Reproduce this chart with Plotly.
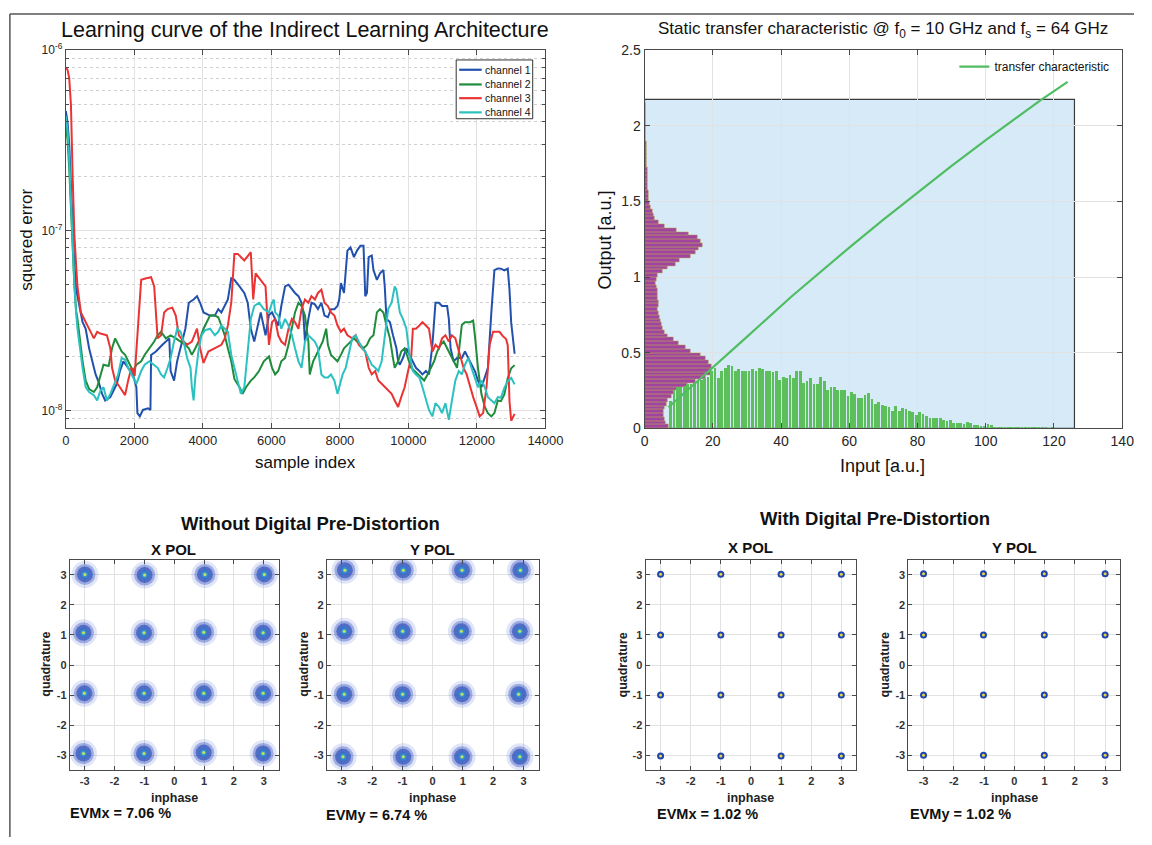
import plotly.graph_objects as go

W, H = 1152, 845
def px(x): return x / W
def py(y): return 1 - y / H

FONT = "Liberation Sans, Arial, sans-serif"
TXT = "#262626"
AXC = "#4a4a4a"

# ---------------- Learning curve (squared error, units of 1e-8) ----------------
ch1_x = [0, 50, 100, 150, 200, 250, 300, 340, 490, 580, 680, 770, 870, 960, 1060, 1150, 1300, 1390, 1490, 1580,
         1680, 1820, 1960, 2060, 2090, 2160, 2250, 2400, 2470, 2490, 2630, 2820, 3020, 3060, 3160, 3250, 3350, 3490,
         3590, 3730, 3830, 3920, 4020, 4110, 4210, 4350, 4450, 4540, 4640, 4730, 4830, 4920, 5070, 5210, 5310, 5400,
         5500, 5590, 5690, 5830, 5930, 6020, 6110, 6200, 6290, 6400, 6500, 6600, 6690, 6790, 6880, 6930, 6980, 7080,
         7170, 7270, 7360, 7460, 7550, 7650, 7740, 7840, 7930, 7980, 8030, 8120, 8220, 8310, 8410, 8500, 8600, 8690,
         8740, 8790, 8840, 8930, 8980, 9080, 9170, 9270, 9310, 9360, 9460, 9550, 9650, 9700, 9750, 9840, 9940, 10030,
         10130, 10220, 10320, 10410, 10510, 10600, 10700, 10790, 10890, 10980, 11130, 11180, 11230, 11320, 11420,
         11560, 11650, 11750, 11840, 11940, 12030, 12130, 12230, 12320, 12420, 12510, 12610, 12700, 12800, 12900,
         12950, 13000, 13100]
ch1_v = [46, 40, 30, 18, 10, 6.5, 4.8, 4.32, 3.10, 2.85, 2.22, 1.88, 1.59, 1.44, 1.24, 1.14, 1.19, 1.29, 1.41, 1.66,
         1.88, 1.73, 1.59, 1.35, 0.97, 0.93, 1.01, 1.03, 1.01, 2.04, 2.13, 2.32, 2.52, 1.66, 1.47, 1.88, 2.22, 2.85,
         3.97, 4.14, 4.32, 3.97, 3.51, 3.44, 3.37, 3.37, 3.66, 3.51, 3.81, 4.14, 5.43, 5.32, 4.89, 4.50, 3.97, 2.85,
         2.42, 2.85, 3.51, 2.62, 3.40, 3.51, 3.23, 2.97, 3.81, 4.89, 5.00, 4.69, 4.50, 4.32, 3.97, 3.51, 2.42, 3.23,
         3.97, 3.89, 3.66, 3.97, 3.37, 3.30, 3.66, 3.66, 3.81, 4.14, 5.10, 4.50, 7.73, 8.06, 7.11, 7.73, 8.23, 8.23,
         4.32, 4.50, 7.11, 7.26, 6.03, 5.32, 5.78, 6.03, 4.89, 3.23, 3.10, 2.62, 2.22, 1.88, 1.80, 1.96, 2.22, 2.04,
         1.88, 1.73, 1.66, 1.59, 1.66, 1.59, 2.32, 3.97, 3.97, 3.81, 3.81, 3.23, 2.22, 1.88, 1.96,
         1.96, 2.13, 1.96, 1.80, 1.66, 1.47, 1.35, 1.53, 1.73, 3.51, 6.03, 6.15, 6.14, 6.00, 6.14,
         4.68, 3.08, 2.07]

ch2_x = [0, 50, 100, 150, 200, 250, 300, 340, 490, 580, 680, 820, 915, 1010, 1100, 1250, 1350, 1440, 1530, 1630,
         1730, 1820, 1960, 2060, 2200, 2300, 2440, 2580, 2680, 2780, 2920, 3060, 3210, 3350, 3490, 3590, 3680, 3780,
         3920, 4020, 4110, 4210, 4350, 4450, 4540, 4640, 4730, 4830, 4920, 5070, 5160, 5260, 5400, 5500, 5640, 5780,
         5930, 6020, 6110, 6200, 6290, 6400, 6500, 6600, 6690, 6790, 6880, 6980, 7080, 7120, 7220, 7360, 7500, 7600,
         7650, 7740, 7840, 7930, 8030, 8120, 8220, 8310, 8410, 8500, 8600, 8690, 8790, 8880, 8980, 9080, 9170, 9270,
         9360, 9460, 9550, 9600, 9700, 9790, 9890, 9990, 10080, 10180, 10270, 10370, 10460, 10560, 10650, 10750,
         10840, 10940, 11030, 11130, 11230, 11320, 11420, 11560, 11650, 11800, 11890, 11940, 12030, 12130, 12230,
         12320, 12420, 12510, 12610, 12700, 12800, 12900, 13000, 13100]
ch2_v = [38, 32, 22, 13, 8, 5, 3.6, 3.23, 1.88, 1.47, 1.32, 1.27, 1.35, 1.59, 1.80, 1.77, 2.22, 2.52, 2.32, 2.13,
         2.04, 1.88, 1.66, 1.80, 1.88, 2.04, 2.22, 2.42, 2.62, 2.74, 2.52, 2.62, 2.52, 2.42, 2.32, 2.22, 2.04, 2.22,
         2.52, 2.85, 3.10, 3.37, 3.37, 3.30, 2.97, 2.62, 2.22, 1.88, 1.50, 1.35, 1.24, 1.35, 1.47, 1.53, 1.66, 1.88,
         2.00, 1.73, 1.59, 1.66, 1.88, 1.96, 2.32, 2.85, 3.51, 3.97, 3.81, 3.37, 2.42, 1.59, 1.88, 2.13, 2.42, 2.85,
         2.32, 2.04, 1.96, 1.88, 2.04, 2.22, 2.32, 2.42, 2.52, 2.42, 2.32, 2.22, 2.32, 2.52, 2.62, 3.51, 3.66, 3.51,
         2.97, 2.52, 1.96, 1.73, 1.88, 2.13, 2.22, 1.96, 1.73, 1.66, 1.59, 1.53, 1.47, 1.59, 1.73, 1.88,
         2.13, 2.32, 2.42, 2.22, 2.04, 1.88, 1.73, 3.00, 3.10, 3.10, 3.16, 2.62, 1.73, 1.24, 1.05,
         0.97, 0.93, 0.97, 1.14, 1.13, 1.23, 1.52, 1.72, 1.79]

ch3_x = [0, 50, 100, 150, 200, 250, 300, 340, 440, 580, 725, 820, 915, 1010, 1200, 1300, 1350, 1440, 1580, 1730,
         1820, 1915, 2010, 2110, 2200, 2350, 2490, 2580, 2680, 2780, 2870, 2970, 3110, 3210, 3300, 3440, 3540, 3680,
         3830, 3920, 4020, 4160, 4350, 4540, 4640, 4730, 4830, 4920, 5020, 5210, 5400, 5470, 5540, 5690, 5830, 5930,
         6020, 6110, 6200, 6290, 6400, 6500, 6600, 6690, 6790, 6880, 6980, 7080, 7170, 7270, 7360, 7460, 7550, 7650,
         7740, 7840, 7930, 8030, 8120, 8220, 8360, 8460, 8550, 8650, 8740, 8840, 8930, 9030, 9120, 9220, 9310, 9410,
         9510, 9600, 9700, 9790, 9890, 9990, 10080, 10130, 10220, 10320, 10410, 10510, 10600, 10700, 10790, 10890,
         10980, 11080, 11180, 11270, 11370, 11420, 11520, 11610, 11700, 11800, 11890, 11990, 12080, 12180, 12280,
         12370, 12470, 12560, 12660, 12750, 12850, 12900, 12950, 13000, 13100]
ch3_v = [80, 78, 70, 50, 20, 9.5, 6.5, 4.89, 3.51, 3.10, 2.74, 2.52, 2.74, 2.68, 2.62, 2.22, 1.73, 1.47, 1.35, 1.22,
         1.47, 1.73, 1.56, 2.85, 5.32, 5.43, 5.50, 4.89, 2.52, 2.62, 3.51, 3.66, 3.73, 3.37, 2.62, 2.42, 2.32, 2.42,
         2.85, 2.22, 1.84, 2.13, 2.22, 2.32, 2.52, 2.97, 3.97, 7.41, 7.41, 6.82, 7.57, 4.14, 5.78, 5.32, 4.89, 2.32,
         3.10, 3.23, 2.62, 2.42, 2.32, 2.85, 3.23, 3.10, 2.85, 3.66, 4.14, 3.97, 4.32, 4.14, 4.50, 4.69, 3.97, 3.81,
         3.51, 3.37, 2.97, 2.74, 2.85, 2.62, 2.52, 2.62, 2.32, 2.22, 2.13, 1.73, 1.59, 1.66, 1.47, 1.41, 1.35, 1.29,
         1.24, 1.14, 1.05, 1.19, 1.35, 1.66, 1.96, 2.85, 2.85, 2.97, 3.10, 2.97, 2.85, 2.13, 2.32, 2.22,
         2.52, 2.62, 2.42, 2.62, 2.52, 2.32, 1.96, 1.73, 1.59, 1.35, 1.19, 1.05, 0.93, 0.97, 1.35,
         2.32, 2.74, 2.74, 2.74, 2.60, 2.50, 2.30, 1.13, 0.88, 0.96]

ch4_x = [0, 50, 100, 150, 200, 250, 300, 340, 490, 580, 680, 820, 915, 1010, 1100, 1200, 1300, 1440, 1530, 1630,
         1730, 1820, 1960, 2060, 2200, 2300, 2440, 2580, 2680, 2780, 2870, 2970, 3060, 3160, 3250, 3350, 3440, 3540,
         3640, 3680, 3730, 3780, 3870, 3960, 4060, 4210, 4350, 4450, 4540, 4640, 4730, 4830, 4920, 5020, 5110, 5210,
         5310, 5400, 5500, 5640, 5780, 5930, 6020, 6070, 6110, 6200, 6290, 6400, 6500, 6600, 6690, 6790, 6880, 6980,
         7080, 7170, 7270, 7360, 7460, 7550, 7650, 7740, 7840, 7930, 7980, 8080, 8170, 8270, 8360, 8460, 8550, 8650,
         8740, 8840, 8930, 9030, 9120, 9220, 9310, 9410, 9510, 9600, 9650, 9750, 9840, 9940, 10030, 10130, 10220,
         10320, 10410, 10510, 10600, 10700, 10790, 10890, 10980, 11080, 11180, 11270, 11370, 11470, 11560, 11650,
         11750, 11840, 11940, 12030, 12130, 12230, 12320, 12420, 12510, 12610, 12700, 12800, 12900, 13000, 13100]
ch4_v = [43, 36, 25, 14, 8, 5, 3.5, 2.85, 1.73, 1.35, 1.27, 1.22, 1.14, 1.29, 1.35, 1.14, 1.24, 1.44, 1.59, 1.96,
         1.92, 1.73, 1.53, 1.41, 1.66, 1.80, 1.88, 1.80, 1.73, 1.59, 1.53, 1.73, 1.96, 2.42, 2.85, 2.74, 2.42, 1.96,
         1.73, 1.35, 1.14, 1.53, 2.13, 2.62, 2.79, 2.85, 2.62, 2.74, 2.97, 2.85, 2.74, 2.04, 1.73, 1.41, 1.24, 1.35,
         2.13, 3.23, 3.81, 3.97, 3.66, 3.51, 3.97, 4.14, 3.51, 3.37, 2.85, 3.23, 2.97, 2.62, 2.22, 1.88, 1.73, 2.42,
         2.62, 2.52, 2.42, 2.22, 1.59, 1.53, 1.53, 1.59, 1.47, 1.24, 1.35, 1.59, 1.73, 2.13, 2.52, 2.62, 2.42, 2.22,
         2.13, 1.96, 1.80, 1.73, 1.66, 1.88, 2.62, 3.66, 3.97, 4.89, 4.69, 3.51, 3.23, 2.85, 2.04, 1.66, 1.59,
         1.53, 1.35, 1.14, 1.01, 0.93, 1.10, 1.05, 0.97, 1.10, 0.89, 1.14, 1.47, 1.66, 1.59, 1.80,
         1.96, 1.73, 1.53, 1.35, 1.47, 1.35, 1.19, 1.14, 1.10, 1.19, 1.18, 1.34, 1.46, 1.52, 1.40]

channel_names = ["channel 1", "channel 2", "channel 3", "channel 4"]
channel_colors = ["#2251ad", "#1f8c3b", "#ea3434", "#2cc0c0"]

# ---------------- Static transfer characteristic ----------------
in_hist_left = list(range(7, 125))
in_hist = [0.18, 0.25, 0.27, 0.27, 0.28, 0.29, 0.29, 0.30, 0.31, 0.32, 0.33, 0.34, 0.38, 0.40, 0.33, 0.38, 0.40,
           0.42, 0.41, 0.38, 0.39, 0.38, 0.38, 0.38, 0.39, 0.38, 0.40, 0.39, 0.38, 0.38, 0.37, 0.38, 0.32, 0.34,
           0.33, 0.35, 0.33, 0.38, 0.38, 0.30, 0.31, 0.33, 0.29, 0.29, 0.34, 0.31, 0.25, 0.27, 0.27, 0.25, 0.25,
           0.25, 0.21, 0.24, 0.225, 0.20, 0.20, 0.22, 0.23, 0.19, 0.16, 0.175, 0.155, 0.15, 0.14, 0.117, 0.145,
           0.112, 0.134, 0.127, 0.117, 0.106, 0.09, 0.106, 0.095, 0.084, 0.069, 0.069, 0.067, 0.067, 0.056, 0.048,
           0.052, 0.037, 0.035, 0.035, 0.03, 0.041, 0.035, 0.019, 0.023, 0.013, 0.013, 0.03, 0.019, 0.006, 0.005,
           0.005, 0.009, 0.005, 0.004, 0.004, 0.003, 0.004, 0.003, 0.003, 0.002, 0.003, 0.002, 0.002, 0.002,
           0.001, 0.002, 0.001, 0.001, 0.001, 0.001, 0.001]
out_bin_width = 0.025
out_hist = [7.0, 6.2, 5.8, 5.5, 5.5, 5.8, 6.3, 6.8, 7.8, 8.6, 10.0, 12.5, 15.0, 18.0, 19.3, 19.7, 19.5, 18.8, 17.8,
            16.5, 13.5, 12.0, 10.0, 8.5, 6.8, 6.0, 5.4, 5.0, 4.6, 4.4, 4.2, 3.9, 4.0, 4.1, 3.9, 3.8, 3.7, 3.4,
            3.2, 3.5, 3.9, 5.4, 6.8, 9.0, 10.4, 13.5, 15.0, 15.8, 17.0, 16.5, 15.5, 13.0, 9.5, 6.0, 4.0, 3.0,
            2.5, 2.2, 1.7, 1.5, 1.3, 1.2, 1.1, 1.0, 1.0, 0.9, 0.9, 0.8, 0.8, 0.7, 0.7, 0.6, 0.6, 0.5, 0.5, 0.5,
            0.4, 0.4, 0.35, 0.3, 0.3, 0.25, 0.2, 0.2, 0.15, 0.15, 0.1]
tc_in = [7, 20, 30, 43, 50, 60, 70, 80, 90, 100, 110, 116, 124]
tc_out = [0.14, 0.40, 0.605, 0.87, 1.005, 1.195, 1.38, 1.56, 1.735, 1.905, 2.07, 2.168, 2.29]
range_box = [126, 2.175]   # input / output extent of the shaded region

# ---------------- Constellations (cluster centres) ----------------
woX_i = [-2.99, -0.99, 1.03, 3.02, -3.04, -1.01, 0.99, 2.98, -3.01, -1.01, 0.99, 2.98, -3.04, -1.01, 0.99, 2.98]
woX_q = [3.01, 2.99, 3.01, 3.01, 1.07, 1.07, 1.09, 1.07, -0.94, -0.94, -0.94, -0.94, -2.94, -2.94, -2.91, -2.94]
woY_i = [-2.90, -0.97, 0.97, 2.90, -2.92, -0.99, 0.95, 2.88, -2.92, -0.99, 0.97, 2.84, -2.96, -0.97, 0.97, 2.88]
woY_q = [3.15, 3.15, 3.15, 3.15, 1.12, 1.12, 1.12, 1.12, -0.97, -0.97, -0.97, -0.97, -3.05, -3.05, -3.05, -3.05]
wX_i = [-3.0, -1.0, 1.0, 3.0, -3.0, -1.0, 1.0, 3.0, -3.0, -1.0, 1.0, 3.0, -3.0, -1.0, 1.0, 3.0]
wX_q = [3.02, 3.02, 3.02, 3.02, 1.0, 1.0, 1.0, 1.0, -1.0, -1.0, -1.0, -1.0, -3.02, -3.02, -3.02, -3.02]
wY_i = [-3.0, -1.02, 0.99, 3.0, -3.0, -1.02, 0.99, 3.0, -3.0, -1.02, 0.99, 3.0, -3.0, -1.02, 0.99, 3.0]
wY_q = [3.03, 3.03, 3.03, 3.03, 1.0, 1.0, 1.0, 1.0, -1.0, -1.0, -1.0, -1.0, -3.0, -3.0, -3.0, -3.0]
evm_labels = ["EVMx = 7.06 %", "EVMy = 6.74 %", "EVMx = 1.02 %", "EVMy = 1.02 %"]
pol_labels = ["X POL", "Y POL", "X POL", "Y POL"]
group_titles = ["Without Digital Pre-Distortion", "With Digital Pre-Distortion"]

fig = go.Figure()

# learning curves
for nm, xs, vs, col in zip(channel_names, [ch1_x, ch2_x, ch3_x, ch4_x], [ch1_v, ch2_v, ch3_v, ch4_v], channel_colors):
    fig.add_trace(go.Scatter(x=xs, y=[v * 1e-8 for v in vs], mode="lines", name=nm,
                             line=dict(color=col, width=2), showlegend=False, xaxis="x", yaxis="y"))

# histograms and transfer curve
fig.add_trace(go.Bar(y=[out_bin_width * (k + 0.5) for k in range(len(out_hist))], x=out_hist, orientation="h",
                     width=out_bin_width, marker=dict(color="#a0449f", line=dict(color="#bfae4c", width=0.5)),
                     showlegend=False, xaxis="x2", yaxis="y2"))
fig.add_trace(go.Bar(x=[b + 0.5 for b in in_hist_left], y=in_hist, width=0.8,
                     marker=dict(color="#5cbf5c", line=dict(width=0)), showlegend=False, xaxis="x2", yaxis="y2"))
fig.add_trace(go.Scatter(x=tc_in, y=tc_out, mode="lines", name="transfer characteristic",
                         line=dict(color="#50bd62", width=2.2), showlegend=True, xaxis="x2", yaxis="y2"))

# constellations
panels = [(woX_i, woX_q, "x3", "y3", False), (woY_i, woY_q, "x4", "y4", False),
          (wX_i, wX_q, "x5", "y5", True), (wY_i, wY_q, "x6", "y6", True)]
for ii, qq, xa, ya, dpd in panels:
    if not dpd:
        fig.add_trace(go.Scatter(x=ii, y=qq, mode="markers", showlegend=False, xaxis=xa, yaxis=ya,
                                 marker=dict(size=27, color="rgba(35,70,195,0.14)", line=dict(width=0))))
        fig.add_trace(go.Scatter(x=ii, y=qq, mode="markers", showlegend=False, xaxis=xa, yaxis=ya,
                                 marker=dict(size=21, color="rgba(35,65,185,0.35)", line=dict(width=0))))
        fig.add_trace(go.Scatter(x=ii, y=qq, mode="markers", showlegend=False, xaxis=xa, yaxis=ya,
                                 marker=dict(size=16, color="rgba(30,60,175,0.55)", line=dict(width=0),
                                             gradient=dict(type="radial", color="rgba(45,110,205,0.85)"))))
        fig.add_trace(go.Scatter(x=ii, y=qq, mode="markers", showlegend=False, xaxis=xa, yaxis=ya,
                                 marker=dict(size=9, color="rgba(40,110,200,0.55)", line=dict(width=0),
                                             gradient=dict(type="radial", color="rgba(70,200,210,0.9)"))))
        fig.add_trace(go.Scatter(x=ii, y=qq, mode="markers", showlegend=False, xaxis=xa, yaxis=ya,
                                 marker=dict(size=3, color="#c8e05a", line=dict(width=0))))
    else:
        fig.add_trace(go.Scatter(x=ii, y=qq, mode="markers", showlegend=False, xaxis=xa, yaxis=ya,
                                 marker=dict(size=7, color="#1f44b0", line=dict(width=0))))
        fig.add_trace(go.Scatter(x=ii, y=qq, mode="markers", showlegend=False, xaxis=xa, yaxis=ya,
                                 marker=dict(size=3, color="#e6d83c", line=dict(width=0))))

# ---------------- axes ----------------
def base_axis(**kw):
    d = dict(showline=True, linecolor=AXC, linewidth=1, mirror="ticks", ticks="inside", ticklen=5,
             tickcolor=AXC, showgrid=True, gridcolor="#e2e2e2", gridwidth=1, zeroline=False,
             tickfont=dict(family=FONT, size=13, color=TXT))
    d.update(kw)
    return d

layout_axes = dict(
    xaxis=base_axis(domain=[px(63), px(552)], range=[0, 14000], dtick=2000, tickformat="d", anchor="y"),
    yaxis=base_axis(domain=[py(428), py(42)], type="log", range=[-8.098, -6], anchor="x",
                    tickvals=[1e-8, 1e-7, 1e-6],
                    ticktext=["10<sup>-8</sup>", "10<sup>-7</sup>", "10<sup>-6</sup>"],
                    tickfont=dict(family=FONT, size=12, color=TXT),
                    minor=dict(showgrid=True, gridcolor="#d0d0d0", griddash="dot", ticks="inside",
                               ticklen=3, tickcolor=AXC, dtick="D1")),
    xaxis2=base_axis(domain=[px(653), px(1140)], range=[0, 140], dtick=20, anchor="y2",
                     tickfont=dict(family=FONT, size=14, color=TXT)),
    yaxis2=base_axis(domain=[py(428), py(42)], range=[0, 2.5], dtick=0.5, anchor="x2",
                     tickfont=dict(family=FONT, size=14, color=TXT)),
)
bottom_x = [(67, 280), (329, 545), (654, 869), (922, 1138)]
for k, (x0, x1) in enumerate(bottom_x):
    n = k + 3
    tf = dict(family=FONT, size=11, color="#333333", weight="bold")
    layout_axes[f"xaxis{n}"] = base_axis(domain=[px(x0), px(x1)], range=[-3.5, 3.5],
                                         tickvals=[-3, -2, -1, 0, 1, 2, 3],
                                         ticktext=["-3", "-2", "-1", "0", "1", "2", "3"], anchor=f"y{n}",
                                         tickfont=tf, ticklen=4)
    layout_axes[f"yaxis{n}"] = base_axis(domain=[py(777), py(562)], range=[-3.5, 3.5],
                                         tickvals=[-3, -2, -1, 0, 1, 2, 3],
                                         ticktext=["-3", "-2", "-1", "0", "1", "2", "3"], anchor=f"x{n}",
                                         tickfont=tf, ticklen=4)

# ---------------- annotations ----------------
def ann(text, x, y, size, angle=0, xanchor="center", bold=False, color=TXT):
    return dict(text=text, x=px(x), y=py(y), xref="paper", yref="paper", showarrow=False,
                xanchor=xanchor, yanchor="middle", textangle=angle, borderpad=0,
                font=dict(family=FONT, size=size, color=color, weight="bold" if bold else "normal"))

annotations = [
    ann("Learning curve of the Indirect Learning Architecture", 307, 21, 21.5, color="#111111"),
    ann("squared error", 23, 236, 17, angle=-90, color="#111111"),
    ann("sample index", 307, 463, 17, color="#111111"),
    ann("Static transfer characteristic @ f<sub>0</sub> = 10 GHz and f<sub>s</sub> = 64 GHz", 896, 21, 17,
        color="#111111"),
    ann("Output [a.u.]", 613, 236, 18, angle=-90, color="#111111"),
    ann("Input [a.u.]", 896, 466, 18, color="#111111"),
    ann(group_titles[0], 312, 525, 18.5, bold=True, color="#111111"),
    ann(group_titles[1], 888, 520, 18.5, bold=True, color="#111111"),
]
pol_pos = [(173, 552), (437, 552), (761, 550), (1030, 550)]
quad_x = [42, 305, 631, 898]
evm_pos = [(66, 820), (327, 823), (665, 822), (923, 822)]
for k in range(4):
    annotations.append(ann(pol_labels[k], pol_pos[k][0], pol_pos[k][1], 15, bold=True, color="#111111"))
    cx = (bottom_x[k][0] + bottom_x[k][1]) / 2
    annotations.append(ann("inphase", cx, 805, 12.5, bold=True, color="#222222"))
    annotations.append(ann("quadrature", quad_x[k], 669, 12.5, angle=-90, bold=True, color="#222222"))
    annotations.append(ann(evm_labels[k], evm_pos[k][0], evm_pos[k][1], 14.5, xanchor="left", bold=True,
                           color="#111111"))

# manual legend for the learning curves
leg_rows = [62, 77, 91, 105.5]
shapes = [
    dict(type="rect", xref="paper", yref="paper", x0=px(461), x1=px(539), y0=py(112), y1=py(52),
         line=dict(color="#333333", width=1), fillcolor="white", layer="above"),
]
for nm, col, ry in zip(channel_names, channel_colors, leg_rows):
    shapes.append(dict(type="line", xref="paper", yref="paper", x0=px(464), x1=px(487), y0=py(ry), y1=py(ry),
                       line=dict(color=col, width=2.2), layer="above"))
    annotations.append(dict(text=nm, x=px(488), y=py(ry), xref="paper", yref="paper", showarrow=False,
                            xanchor="left", yanchor="middle", font=dict(family=FONT, size=10.5, color="#111111")))

# shaded input/output region
shapes.append(dict(type="rect", xref="x2", yref="y2", x0=0, x1=range_box[0], y0=0, y1=range_box[1],
                   fillcolor="#d6eaf8", line=dict(color="#3a3a3a", width=1.2), layer="below"))
# figure frame
shapes.append(dict(type="line", xref="paper", yref="paper", x0=px(6), x1=1, y0=py(5), y1=py(5),
                   line=dict(color="#555555", width=1.5)))
shapes.append(dict(type="line", xref="paper", yref="paper", x0=px(6), x1=px(6), y0=py(5), y1=0,
                   line=dict(color="#555555", width=1.5)))

fig.update_layout(
    width=W, height=H, autosize=False, margin=dict(l=0, r=0, t=0, b=0, pad=0),
    paper_bgcolor="white", plot_bgcolor="white", barmode="overlay", bargap=0,
    font=dict(family=FONT, color=TXT),
    annotations=annotations, shapes=shapes,
    legend=dict(x=px(1132), y=py(44), xanchor="right", yanchor="top", bgcolor="rgba(0,0,0,0)",
                borderwidth=0, font=dict(family=FONT, size=12, color="#111111"), itemwidth=30),
    **layout_axes,
)

page_fix = (
    "document.documentElement.style.margin='0';document.documentElement.style.padding='0';"
    "document.documentElement.style.overflow='hidden';"
    "document.body.style.margin='0';document.body.style.padding='0';document.body.style.overflow='hidden';"
    "var gd=document.getElementById('{plot_id}');"
    "gd.style.position='fixed';gd.style.left='0px';gd.style.top='0px';"
)
fig.write_html("out.html", config={"displayModeBar": False}, post_script=page_fix)
